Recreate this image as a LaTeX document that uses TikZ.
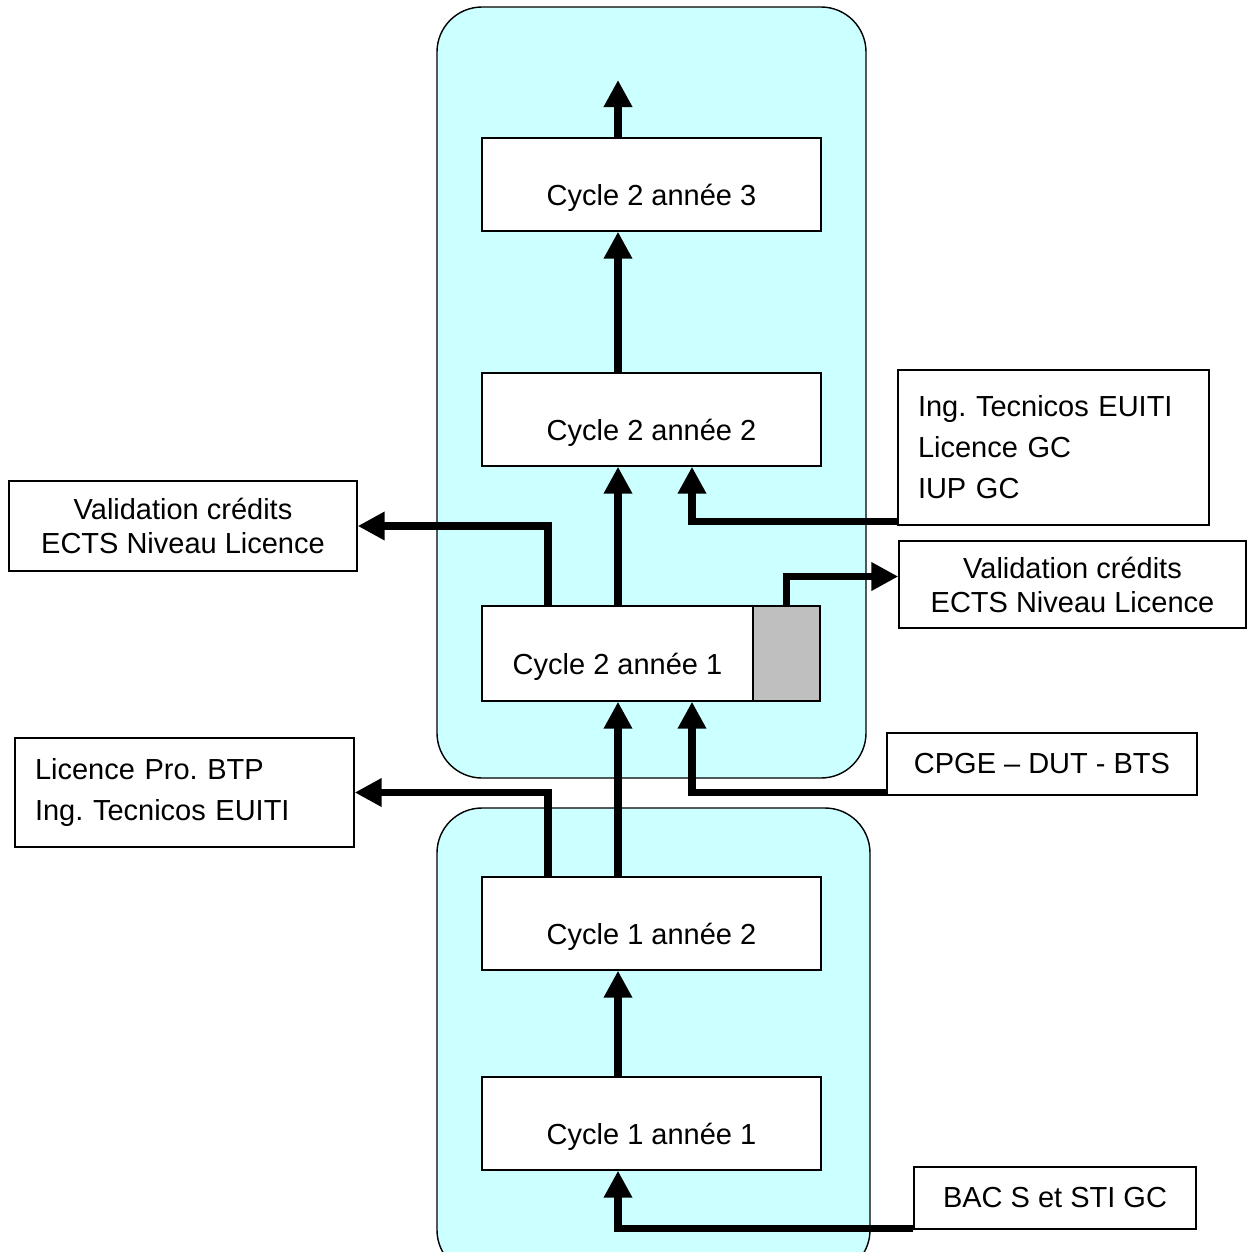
\documentclass[tikz,border=0pt]{standalone}
\usepackage{fontspec}
\setmainfont{Liberation Sans}
\usetikzlibrary{arrows.meta}
\definecolor{cyanpale}{RGB}{204,255,255}
\frenchspacing

\begin{document}
\begin{tikzpicture}[x=0.02cm,y=-0.02cm]

\def\pu{0.02cm}
\tikzstyle{year} = [
	draw, fill=white, rectangle, line width=0.8pt, inner sep=0pt,
	minimum width=339*\pu, minimum height=93*\pu,
	text height=0.95cm, text depth=0.13cm,
	font=\fontsize{16.5}{19.4}\selectfont ];
\tikzstyle{side} = [
	draw, fill=white, rectangle, line width=0.8pt, inner sep=0pt,
	font=\fontsize{16.5}{19.4}\selectfont ];
\tikzstyle{cycle} = [draw, fill=cyanpale, line width=0.8pt, rounded corners=45*\pu];
\tikzstyle{flow} = [line width=4pt, -{Triangle[length=27*\pu,width=27*\pu]}];

\useasboundingbox (0,0) rectangle (1249,1252);
\clip (0,0) rectangle (1249,1252);

% the two cycles
\draw[cycle] (437,7) rectangle (866,778);
\draw[cycle] (437,808) rectangle (870,1275);

\node[year] (c2a3) at (651.5,184.5) {Cycle 2 année 3};
\node[year] (c2a2) at (651.5,419.5) {Cycle 2 année 2};
\node[year,minimum width=271*\pu,minimum height=95*\pu] (c2a1) at (617.5,653.5) {Cycle 2 année 1};
\node[year,fill=black!25,minimum width=67*\pu,minimum height=95*\pu] (c2a1g) at (786.5,653.5) {};
\node[year] (c1a2) at (651.5,923.5) {Cycle 1 année 2};
\node[year] (c1a1) at (651.5,1123.5) {Cycle 1 année 1};

% entries and exits
\node[side,minimum width=348*\pu,minimum height=90*\pu,align=center] (valL) at (183,526)
	{Validation crédits\\ECTS Niveau Licence};
\node[side,minimum width=339*\pu,minimum height=109*\pu,text width=299*\pu,align=left,
	font=\fontsize{16.5}{22.8}\selectfont] (proL) at (184.5,792.5)
	{Licence Pro. BTP\\Ing. Tecnicos EUITI};
\node[side,minimum width=311*\pu,minimum height=155*\pu,text width=271*\pu,align=left,
	font=\fontsize{16.5}{23.3}\selectfont] (ingR) at (1053.5,447.5)
	{Ing. Tecnicos EUITI\\Licence GC\\IUP GC};
\node[side,minimum width=347*\pu,minimum height=87*\pu,align=center] (valR) at (1072.5,584.5)
	{Validation crédits\\ECTS Niveau Licence};
\node[side,minimum width=310*\pu,minimum height=62*\pu] (cpge) at (1042,764) {CPGE – DUT - BTS};
\node[side,minimum width=282*\pu,minimum height=62*\pu] (bac) at (1055,1198) {BAC S et STI GC};

\coordinate (sp) at (618,0);
\coordinate (lx) at (548,0);
\coordinate (rx) at (692,0);
\coordinate (top) at (618,80);

\draw[flow] (c2a3.north -| sp) -- (top);
\draw[flow] (c2a2.north -| sp) -- (c2a3.south -| sp);
\draw[flow] (c2a1.north -| sp) -- (c2a2.south -| sp);
\draw[flow] (c1a2.north -| sp) -- (c2a1.south -| sp);
\draw[flow] (c1a1.north -| sp) -- (c1a2.south -| sp);

\draw[flow] (c2a1.north -| lx) |- (valL.east);
\draw[flow] (c1a2.north -| lx) |- (proL.east);
\draw[flow] ([yshift=4*\pu]ingR.south west) -| (c2a2.south -| rx);
\draw[flow] (c2a1g.north) |- ([yshift=8*\pu]valR.west);
\draw[flow] ([yshift=3*\pu]cpge.south west) -| (c2a1.south -| rx);
\draw[flow] ([yshift=1*\pu]bac.south west) -| (c1a1.south -| sp);

\end{tikzpicture}
\end{document}
